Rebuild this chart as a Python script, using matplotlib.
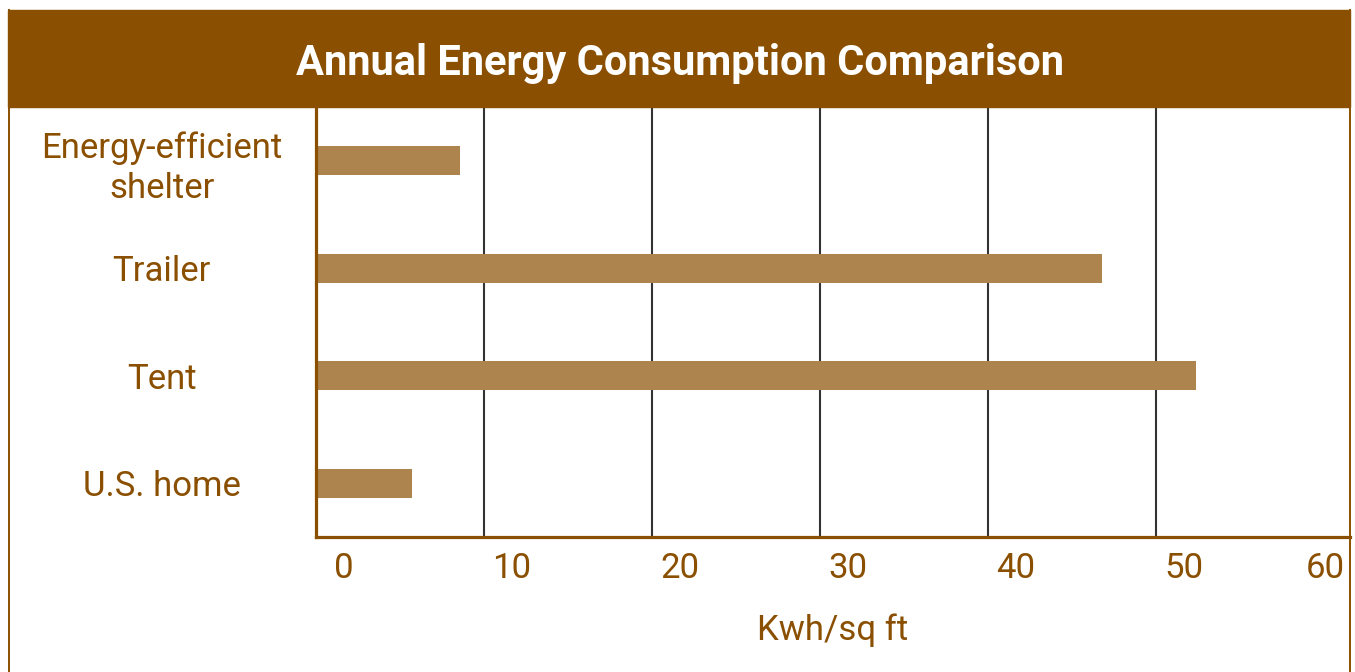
import matplotlib
matplotlib.use('Agg')
import matplotlib.pyplot as plt
import matplotlib.transforms as mtransforms
from matplotlib.patches import Rectangle
from matplotlib.lines import Line2D

plt.rcParams['font.family'] = ['Roboto', 'DejaVu Sans']

categories = ['Energy-efficient\nshelter', 'Trailer', 'Tent', 'U.S. home']
values = [8.6, 46.8, 52.4, 5.7]
xticks = [0, 10, 20, 30, 40, 50, 60]
title = 'Annual Energy Consumption Comparison'
xlabel = 'Kwh/sq ft'

brown = '#8a4f00'
bar_color = '#ad834e'
fs = 25

fig = plt.figure(figsize=(13.55, 6.72), dpi=100)
ax = fig.add_axes([316/1355, 135/672, (1350-316)/1355, 430/672])

ypos = list(range(len(categories)))
ax.barh(ypos, values, height=0.27, color=bar_color, zorder=2)
ax.set_ylim(len(categories) - 0.5, -0.5)
ax.set_xlim(0, 61.55)

ax.set_yticks(ypos)
ax.set_yticklabels(categories, ha='center', fontsize=fs, color=brown, linespacing=1.3)
ax.tick_params(axis='y', length=0, pad=111)

ax.set_xticks(xticks)
ax.set_xticklabels([str(t) for t in xticks], fontsize=fs, color=brown)
ax.tick_params(axis='x', length=0, pad=11)
for t, lab in zip(xticks, ax.get_xticklabels()):
    dx = 28 if t < 60 else 1
    lab.set_transform(lab.get_transform() + mtransforms.ScaledTranslation(dx/100, 0, fig.dpi_scale_trans))

for t in xticks[1:-1]:
    ax.axvline(t, color='#333333', lw=1.5, zorder=1)

for s in ['top', 'right']:
    ax.spines[s].set_visible(False)
for s in ['left', 'bottom']:
    ax.spines[s].set_color(brown)
    ax.spines[s].set_linewidth(2.3)

ax.set_xlabel(xlabel, fontsize=fs, color=brown, labelpad=20)

# title bar and frame
fig.patches.append(Rectangle((8/1355, 565/672), (1350-8)/1355, 97/672,
                             transform=fig.transFigure, color=brown, zorder=0))
fig.text(680/1355, 609/672, title, ha='center', va='center', color='white',
         fontsize=30, fontweight='bold')
for x in [8.5/1355, 1350/1355]:
    fig.lines.append(Line2D([x, x], [0, 662/672], transform=fig.transFigure,
                            color=brown, lw=1.4))

fig.savefig('out.png', dpi=100)
